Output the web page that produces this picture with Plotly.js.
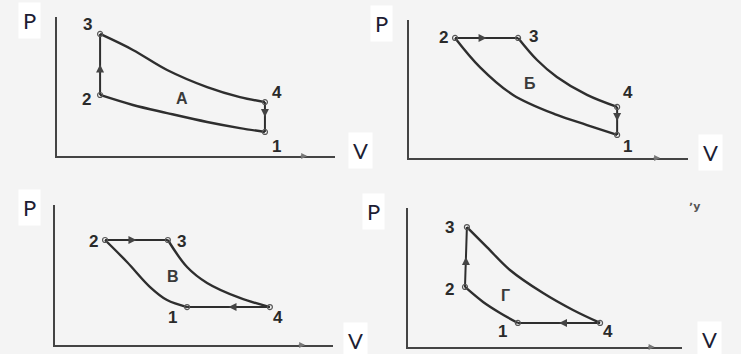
<!DOCTYPE html>
<html><head><meta charset="utf-8">
<script src="https://cdn.plot.ly/plotly-3.0.1.min.js"></script>
<style>html,body{margin:0;padding:0;background:#f4f4f4}#c{width:741px;height:354px}</style>
</head><body><div id="c"></div>
<script>
// Cycle names
const cycleNames = ['А', 'Б', 'В', 'Г'];
const pointNames = ['1', '2', '3', '4'];

// Vertices (points 1,2,3,4), V and P in relative units 0..100
const A_vertV = [74.8, 15.5, 15.5, 74.8];
const A_vertP = [17.3, 43.9, 87.8, 38.8];
const B_vertV = [74.6, 16.5, 39.1, 74.6];
const B_vertP = [16.7, 87.0, 87.0, 37.0];
const C_vertV = [47.5, 18.0, 40.6, 77.3];
const C_vertP = [27.1, 75.0, 75.0, 27.1];
const D_vertV = [40.1, 20.8, 21.5, 70.1];
const D_vertP = [17.3, 43.2, 86.3, 17.3];

// Curve 2-1 (compression)
const A_compV = [15.5, 27.3, 39.6, 54.0, 65.8, 74.8];
const A_compP = [43.9, 36.7, 30.9, 24.5, 20.1, 17.3];
const B_compV = [16.5, 25.4, 37.3, 53.0, 63.8, 74.6];
const B_compP = [87.0, 65.9, 45.7, 31.2, 23.9, 16.7];
const C_compV = [18.0, 25.9, 34.2, 40.3, 47.5];
const C_compP = [75.0, 59.3, 41.4, 32.1, 27.1];
const D_compV = [20.8, 27.4, 33.6, 40.1];
const D_compP = [43.2, 32.4, 24.5, 17.3];

// Curve 3-4 (expansion)
const A_expV = [15.5, 27.3, 39.6, 54.0, 65.8, 74.8];
const A_expP = [87.8, 76.3, 61.9, 49.6, 42.4, 38.8];
const B_expV = [39.1, 45.9, 53.0, 63.8, 74.6];
const B_expP = [87.0, 71.0, 58.7, 45.7, 37.0];
const C_expV = [40.6, 47.5, 54.7, 66.5, 77.3];
const C_expP = [75.0, 55.7, 44.3, 33.6, 27.1];
const D_expV = [21.5, 28.8, 37.2, 49.3, 60.2, 70.1];
const D_expP = [86.3, 71.9, 55.4, 38.8, 26.6, 17.3];

// Cycle letter positions
const letterV = [45.0, 43.4, 42.4, 35.4];
const letterP = [41.7, 54.3, 48.6, 37.4];

const W = 741, H = 354;
// panel layout (pixels): origin x, origin y, x-axis end, y-axis top
const boxes = [
  {ox: 57, oy: 156, xe: 335, yt: 17},
  {ox: 409, oy: 158, xe: 688, yt: 20},
  {ox: 55, oy: 345, xe: 333, yt: 205},
  {ox: 408, oy: 347, xe: 682, yt: 208}
];
// label shifts [dx, dy(up)] for points 1..4 per panel
const shifts = [
  [[12,-15],[-14,-5],[-13,9],[12,10]],
  [[10,-12],[-12,0],[15,1],[11,14]],
  [[-15,-10],[-12,-2],[14,-2],[8,-10]],
  [[-15,-9],[-15,-3],[-17,0],[8,-9]]
];
const panels = [
  {vV: A_vertV, vP: A_vertP, cV: A_compV, cP: A_compP, eV: A_expV, eP: A_expP},
  {vV: B_vertV, vP: B_vertP, cV: B_compV, cP: B_compP, eV: B_expV, eP: B_expP},
  {vV: C_vertV, vP: C_vertP, cV: C_compV, cP: C_compP, eV: C_expV, eP: C_expP},
  {vV: D_vertV, vP: D_vertP, cV: D_compV, cP: D_compP, eV: D_expV, eP: D_expP}
];
const lineCol = '#2e2e2e';
const traces = [], annotations = [], layout = {
  width: W, height: H, margin: {l:0, r:0, t:0, b:0},
  paper_bgcolor: '#f4f4f4', plot_bgcolor: 'rgba(0,0,0,0)', showlegend: false
};
panels.forEach((p, i) => {
  const n = i === 0 ? '' : String(i + 1);
  const xa = 'x' + n, ya = 'y' + n;
  const b = boxes[i];
  layout['xaxis' + n] = {domain: [b.ox / W, b.xe / W], range: [0, 100], anchor: ya,
    showline: true, linecolor: '#444', linewidth: 2, showgrid: false, zeroline: false,
    showticklabels: false, ticks: '', fixedrange: true};
  layout['yaxis' + n] = {domain: [(H - b.oy) / H, (H - b.yt) / H], range: [0, 100], anchor: xa,
    showline: true, linecolor: '#444', linewidth: 2, showgrid: false, zeroline: false,
    showticklabels: false, ticks: '', fixedrange: true};
  const common = {xaxis: xa, yaxis: ya, hoverinfo: 'skip'};
  traces.push(Object.assign({x: p.cV, y: p.cP, mode: 'lines', line: {color: lineCol, width: 2.4, shape: 'spline', smoothing: 1}}, common));
  traces.push(Object.assign({x: p.eV, y: p.eP, mode: 'lines', line: {color: lineCol, width: 2.4, shape: 'spline', smoothing: 1}}, common));
  // straight segments 2-3 and 4-1
  traces.push(Object.assign({x: [p.vV[1], p.vV[2], null, p.vV[3], p.vV[0]],
    y: [p.vP[1], p.vP[2], null, p.vP[3], p.vP[0]], mode: 'lines',
    line: {color: lineCol, width: 2}}, common));
  traces.push(Object.assign({x: p.vV, y: p.vP, mode: 'markers',
    marker: {symbol: 'circle-open', size: 5, color: '#555', line: {width: 1.2, color: '#555'}}}, common));
  // point labels
  p.vV.forEach((v, k) => {
    annotations.push({xref: xa, yref: ya, x: v, y: p.vP[k], text: '<b>' + pointNames[k] + '</b>',
      showarrow: false, xshift: shifts[i][k][0], yshift: shifts[i][k][1],
      xanchor: 'center', yanchor: 'middle',
      font: {family: 'Liberation Sans, Arial', size: 17, color: '#2a2a2a'}});
  });
  annotations.push({xref: xa, yref: ya, x: letterV[i], y: letterP[i], text: '<b>' + cycleNames[i] + '</b>',
    showarrow: false, xanchor: 'center', yanchor: 'middle',
    font: {family: 'Liberation Sans, Arial', size: 16, color: '#3a3a3a'}});
  // direction marks on straight segments (midpoints)
  const m1v = (p.vV[1] + p.vV[2]) / 2, m1p = (p.vP[1] + p.vP[2]) / 2;
  const m2v = (p.vV[3] + p.vV[0]) / 2, m2p = (p.vP[3] + p.vP[0]) / 2;
  const dir1 = Math.abs(p.vV[1]-p.vV[2]) < 2 ? [0, 6] : [-6, 0];
  const dir2 = Math.abs(p.vV[3]-p.vV[0]) < 2 ? [0, -6] : [6, 0];
  annotations.push({xref: xa, yref: ya, x: m1v, y: m1p, ax: dir1[0], ay: dir1[1], text: '', showarrow: true,
    arrowhead: 2, arrowsize: 1, arrowwidth: 1.6, arrowcolor: '#444', standoff: 0});
  annotations.push({xref: xa, yref: ya, x: m2v, y: m2p, ax: dir2[0], ay: dir2[1], text: '', showarrow: true,
    arrowhead: 2, arrowsize: 1, arrowwidth: 1.6, arrowcolor: '#444', standoff: 0});
  // axis arrow marks
  annotations.push({xref: xa, yref: ya, x: 90, y: 0, ax: -8, ay: 0, text: '', showarrow: true,
    arrowhead: 2, arrowsize: 0.8, arrowwidth: 1.5, arrowcolor: '#777', standoff: 0});
});
// P and V labels
const lab = [['P', 29, 21], ['V', 360, 150], ['P', 381, 23], ['V', 710, 152],
             ['P', 29, 207], ['V', 355, 340], ['P', 373, 211], ['V', 709, 339]];
lab.forEach(l => annotations.push({xref: 'paper', yref: 'paper', x: l[1] / W, y: 1 - l[2] / H,
  xanchor: 'center', yanchor: 'middle',
  text: l[0], showarrow: false, bgcolor: '#ffffff', borderpad: 4,
  font: {family: 'Lato, Open Sans', size: 22, color: '#1d1d33'}}));
annotations.push({xref: 'paper', yref: 'paper', x: 694 / W, y: 1 - 206 / H, text: '<b>ʼy</b>',
  xanchor: 'center', yanchor: 'middle', showarrow: false,
  font: {family: 'DejaVu Sans', size: 11, color: '#555'}});
layout.annotations = annotations;
Plotly.newPlot('c', traces, layout, {staticPlot: true, displayModeBar: false});
</script></body></html>
